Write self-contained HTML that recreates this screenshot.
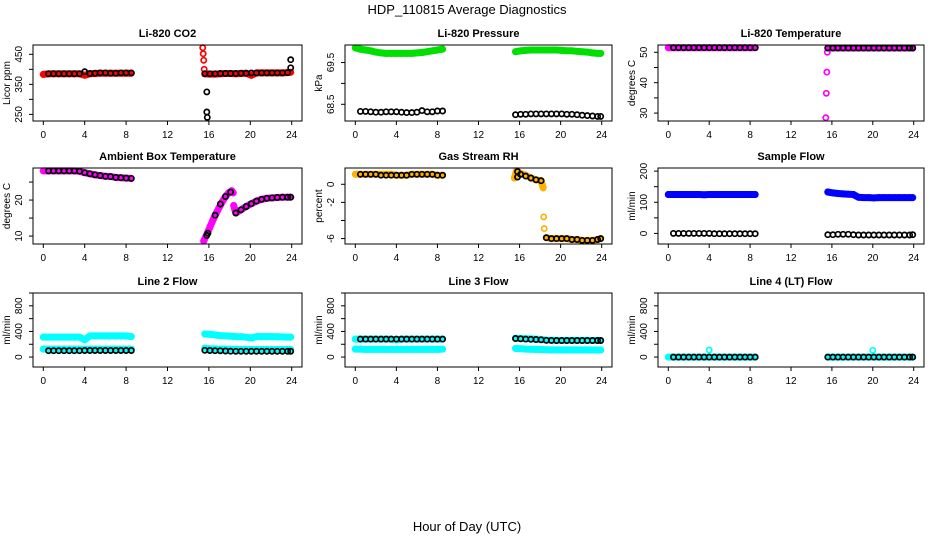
<!DOCTYPE html>
<html><head><meta charset="utf-8"><style>
html,body{margin:0;padding:0;background:#fff;}
svg{display:block;font-family:"Liberation Sans",Arial,sans-serif;}
</style></head><body>
<svg id="chart" width="936" height="540" viewBox="0 0 936 540">
<text x="467" y="14" text-anchor="middle" font-size="13">HDP_110815  Average Diagnostics</text>
<text x="467" y="531" text-anchor="middle" font-size="13">Hour of Day (UTC)</text>
</svg>
<script>
// shared hours
const HA = [0,0.5,1,1.5,2,2.5,3,3.5,4,4.5,5,5.5,6,6.5,7,7.5,8,8.5];
const HAb = [0.5,1,1.5,2,2.5,3,3.5,4,4.5,5,5.5,6,6.5,7,7.5,8,8.5];
const HB = [15.6,16.1,16.6,17.1,17.6,18.1,18.6,19.1,19.6,20.1,20.6,21.1,21.6,22.1,22.6,23.1,23.6,23.9];
const xTicks = [0,4,8,12,16,20,24];

// Li-820 CO2
const co2RedA = [383,385,385,385,385,385,385,385,380,385,386,387,387,387,387,387,387,387];
const co2RedB = [385,384,384,385,386,386,385,386,387,380,388,388,388,388,388,388,389,390];
const co2RedSpikeH = [15.4,15.45,15.5,15.55];
const co2RedSpikeV = [472,452,430,400];
const co2BlkA = [385,385,385,385,385,385,385,392,386,387,388,388,387,387,388,388,388];
const co2BlkB = [385,385,385,386,386,386,386,387,387,388,388,388,388,388,388,388,389,405];
const co2OutH = [15.8,15.8,15.85,23.9];
const co2OutV = [325,258,240,432];
// Pressure
const prGreenA = [69.85,69.82,69.8,69.78,69.75,69.73,69.72,69.72,69.72,69.72,69.72,69.72,69.73,69.74,69.76,69.78,69.8,69.82];
const prGreenB = [69.76,69.78,69.79,69.8,69.8,69.8,69.8,69.8,69.8,69.79,69.78,69.78,69.77,69.76,69.75,69.73,69.72,69.72];
const prBlkA = [68.33,68.33,68.32,68.31,68.31,68.32,68.32,68.32,68.31,68.3,68.3,68.31,68.35,68.32,68.32,68.34,68.34];
const prBlkB = [68.25,68.26,68.26,68.27,68.27,68.27,68.27,68.27,68.27,68.27,68.26,68.26,68.25,68.24,68.23,68.22,68.21,68.21];
// Temperature
const tpMagA = [51.5,51.5,51.5,51.5,51.5,51.5,51.5,51.5,51.5,51.5,51.5,51.5,51.5,51.5,51.5,51.5,51.5,51.5];
const tpMagB = [51.4,51.4,51.4,51.4,51.4,51.4,51.4,51.4,51.4,51.4,51.4,51.4,51.4,51.4,51.4,51.4,51.4,51.4];
const tpSpikeH = [15.4,15.45,15.5,15.55];
const tpSpikeV = [28.5,36.5,43.5,50];
const tpBlkA = [51.5,51.5,51.5,51.5,51.5,51.5,51.5,51.5,51.5,51.5,51.5,51.5,51.5,51.5,51.5,51.5,51.5];
const tpBlkB = [51.4,51.4,51.4,51.4,51.4,51.4,51.4,51.4,51.4,51.4,51.4,51.4,51.4,51.4,51.4,51.4,51.4,51.4];
// Ambient box temperature
const abMagA = [28.1,28.1,28.1,28.1,28.1,28.1,28.1,28.0,27.6,27.3,27.0,26.8,26.6,26.5,26.3,26.2,26.1,26.0];
const abMagBH = [15.5,15.8,16.1,16.4,16.7,17.0,17.3,17.6,17.9,18.2,18.35,null,18.4,18.6,19.1,19.6,20.1,20.6,21.1,21.6,22.1,22.6,23.1,23.6,23.9];
const abMagB = [8.6,10.5,12.5,14.5,16.3,18.0,19.6,21.0,22.0,22.6,22.0,null,18.5,16.4,17.3,18.2,19.0,19.7,20.2,20.5,20.6,20.7,20.8,20.8,20.8];
const abBlkA = [28.1,28.1,28.1,28.1,28.1,28.1,28.0,27.6,27.3,27.0,26.8,26.6,26.5,26.3,26.2,26.1,26.0];
const abBlkBH = [15.8,15.9,16.6,17.1,17.6,18.1,18.6,19.1,19.6,20.1,20.6,21.1,21.6,22.1,22.6,23.1,23.6,23.9];
const abBlkB = [10.2,10.8,15.8,18.9,21.0,22.2,16.4,17.3,18.2,19.0,19.7,20.2,20.5,20.6,20.7,20.8,20.8,20.8];
// Gas stream RH
const rhYelA = [1.1,1.1,1.1,1.1,1.1,1.1,1.1,1.1,1.0,1.0,1.0,1.1,1.1,1.1,1.1,1.1,1.0,1.0];
const rhYelBH = [15.5,15.7,16.1,16.6,17.1,17.6,18.1,18.3,null,18.35,null,18.4,null,18.6,19.1,19.6,20.1,20.6,21.1,21.6,22.1,22.6,23.1,23.6,23.9];
const rhYelB = [0.7,1.5,1.2,1.0,0.7,0.5,0.4,-0.4,null,-3.6,null,-4.9,null,-5.9,-6.0,-6.0,-6.0,-6.0,-6.1,-6.1,-6.2,-6.2,-6.2,-6.1,-6.0];
const rhBlkA = [1.1,1.1,1.1,1.1,1.0,1.0,1.0,1.0,1.0,1.0,1.1,1.1,1.1,1.1,1.1,1.0,1.0];
const rhBlkBH = [15.8,15.8,16.1,16.6,17.1,17.6,18.1,18.6,19.1,19.6,20.1,20.6,21.1,21.6,22.1,22.6,23.1,23.6,23.9];
const rhBlkB = [1.4,0.8,1.1,0.9,0.7,0.5,0.4,-5.9,-6.0,-6.0,-6.0,-6.0,-6.1,-6.1,-6.2,-6.2,-6.2,-6.1,-6.0];
// Sample flow
const sfBluA = [125,125,125,125,125,125,125,124,125,125,125,125,125,125,125,125,125,125];
const sfBluB = [133,130,128,127,126,125,116,115,115,114,115,115,115,115,115,115,115,115];
const sfBlkA = [0,0,0,0,0,0,0,0,-1,-1,-1,-1,-1,-1,-1,-1,-1];
const sfBlkB = [-4,-4,-3,-3,-3,-4,-5,-5,-5,-5,-5,-5,-5,-5,-5,-5,-5,-4];
// Line 2 flow
const l2CyUA = [312,312,312,312,312,312,312,312,270,330,330,330,330,330,330,330,330,320];
const l2CyUB = [360,355,345,335,330,325,320,318,310,298,320,320,320,320,318,315,312,312];
const l2CyLA = [125,125,125,125,125,125,125,125,125,125,125,125,125,125,125,125,125,125];
const l2CyLB = [140,130,128,125,125,122,120,120,120,118,118,118,118,118,118,118,118,118];
const l2BlkA = [100,100,100,100,100,100,100,103,103,103,103,103,103,103,103,103,103];
const l2BlkB = [105,103,100,98,95,92,90,90,90,90,90,90,90,90,90,90,90,90];
// Line 3 flow
const l3CyUA = [281,281,281,281,281,281,281,281,270,281,281,281,281,281,281,281,281,281];
const l3CyUB = [295,290,285,285,280,275,265,262,260,258,260,260,260,260,260,258,258,258];
const l3CyLA = [125,125,120,120,120,120,120,120,120,120,120,120,120,120,120,120,120,125];
const l3CyLB = [135,130,125,122,120,118,115,112,112,112,112,112,112,112,112,110,110,110];
const l3BlkA = [281,281,281,281,281,281,281,281,281,281,281,281,281,281,281,281,281];
const l3BlkB = [290,285,280,278,275,270,262,260,258,258,258,258,258,258,258,258,258,258];
// Line 4 flow
const l4CyA = [0,0,0,0,0,0,0,0,0,0,0,0,0,0,0,0,0,0];
const l4CyB = [0,0,0,0,0,0,0,0,0,0,0,0,0,0,0,0,0,0];
const l4OutH = [4,20];
const l4OutV = [110,105];
const l4BlkA = [0,0,0,0,0,0,0,0,0,0,0,0,0,0,0,0,0];
const l4BlkB = [0,0,0,0,0,0,0,0,0,0,0,0,0,0,0,0,0,0];

const NS = 'http://www.w3.org/2000/svg';
const svg = document.getElementById('chart');
function mk(tag, attrs, parent){
  const e = document.createElementNS(NS, tag);
  for (const k in attrs) e.setAttribute(k, attrs[k]);
  (parent||svg).appendChild(e);
  return e;
}
const colL = [33,345,658], colR = [302,612,924];
const rowT = [45,168,293], rowB = [121,244,367];

function panel(name, title, ylabel, col, row, ymin, ymax, yticks, ylabels, series){
  const L = colL[col], R = colR[col], T = rowT[row], B = rowB[row];
  const g = mk('g', {});
  
  
  const x0 = L + 10.3, kx = (R - L - 20.6) / 24;
  const xs = h => x0 + h * kx;
  const ys = v => B - (v - ymin) / (ymax - ymin) * (B - T);
  const t = mk('text', {x:(L+R)/2, y:T-8, 'text-anchor':'middle', 'font-size':11, 'font-weight':'bold'}, g);
  t.textContent = title;
  
  
  series.forEach(s => {
    const sg = mk('g', {}, g);
    
    
    if (s.band) {
      let d = '', pen = false;
      s.x.forEach((h,i) => {
        const v = s.y[i];
        if (h === null || v === null) { pen = false; return; }
        d += (pen ? 'L' : 'M') + xs(h).toFixed(1) + ' ' + ys(v).toFixed(1) + ' ';
        pen = true;
      });
      mk('path', {d:d, fill:'none', stroke:s.c, 'stroke-width':7, 'stroke-linecap':'round', 'stroke-linejoin':'round'}, sg);
    }
    s.x.forEach((h,i) => {
      const v = s.y[i];
      if (h === null || v === null) return;
      const c = mk('circle', {cx:xs(h).toFixed(1), cy:ys(v).toFixed(1), r:2.6, fill:'none', stroke:s.c, 'stroke-width':1.7}, sg);
      
      
    });
  });
  const box = mk('rect', {x:L, y:T, width:R-L, height:B-T, fill:'none', stroke:'#000', 'stroke-width':1}, g);
  
  
  xTicks.forEach(h => {
    mk('line', {x1:xs(h), x2:xs(h), y1:B, y2:B+4, stroke:'#000'}, g);
    const tl = mk('text', {x:xs(h), y:B+17, 'text-anchor':'middle', 'font-size':10}, g);
    tl.textContent = h;
    
    
  });
  mk('line', {x1:xs(0), x2:xs(24), y1:B, y2:B, stroke:'#000'}, g);
  yticks.forEach(v => {
    mk('line', {x1:L-4, x2:L, y1:ys(v), y2:ys(v), stroke:'#000'}, g);
  });
  ylabels.forEach(v => {
    const y = ys(v);
    const tl = mk('text', {x:L-11, y:y, 'text-anchor':'middle', 'font-size':10, transform:'rotate(-90 '+(L-11)+' '+y+')'}, g);
    tl.textContent = v;
    
    
  });
  const ym = (T+B)/2;
  const yt = mk('text', {x:L-23, y:ym, 'text-anchor':'middle', 'font-size':10, transform:'rotate(-90 '+(L-23)+' '+ym+')'}, g);
  yt.textContent = ylabel;
  
  
}

const RED='#ff0000', GRN='#00e000', MAG='#ff00ff', YEL='#ffb000', BLU='#0000ff', CY='#00ffff', BK='#000000';

panel('co2','Li-820 CO2','Licor ppm',0,0,228,481,[250,300,350,400,450],[250,350,450],[
  {id:'red-a',x:HA,y:co2RedA,c:RED,band:true},{id:'red-b',x:HB,y:co2RedB,c:RED,band:true},
  {id:'red-spike',x:co2RedSpikeH,y:co2RedSpikeV,c:RED},
  {id:'black-a',x:HAb,y:co2BlkA,c:BK},{id:'black-b',x:HB,y:co2BlkB,c:BK},
  {id:'black-outliers',x:co2OutH,y:co2OutV,c:BK}]);
panel('pressure','Li-820 Pressure','kPa',1,0,68.1,69.92,[68.5,69.0,69.5],[68.5,69.5],[
  {id:'green-a',x:HA,y:prGreenA,c:GRN,band:true},{id:'green-b',x:HB,y:prGreenB,c:GRN,band:true},
  {id:'black-a',x:HAb,y:prBlkA,c:BK},{id:'black-b',x:HB,y:prBlkB,c:BK}]);
panel('temperature','Li-820 Temperature','degrees C',2,0,27.4,52.4,[30,35,40,45,50],[30,40,50],[
  {id:'magenta-a',x:HA,y:tpMagA,c:MAG,band:true},{id:'magenta-b',x:HB,y:tpMagB,c:MAG,band:true},
  {id:'magenta-spike',x:tpSpikeH,y:tpSpikeV,c:MAG},
  {id:'black-a',x:HAb,y:tpBlkA,c:BK},{id:'black-b',x:HB,y:tpBlkB,c:BK}]);
panel('ambient','Ambient Box Temperature','degrees C',0,1,7.8,28.9,[10,15,20,25],[10,20],[
  {id:'magenta-a',x:HA,y:abMagA,c:MAG,band:true},{id:'magenta-b',x:abMagBH,y:abMagB,c:MAG,band:true},
  {id:'black-a',x:HAb,y:abBlkA,c:BK},{id:'black-b',x:abBlkBH,y:abBlkB,c:BK}]);
panel('rh','Gas Stream RH','percent',1,1,-6.6,1.8,[-6,-4,-2,0],[-6,-2,0],[
  {id:'yellow-a',x:HA,y:rhYelA,c:YEL,band:true},{id:'yellow-b',x:rhYelBH,y:rhYelB,c:YEL,band:true},
  {id:'black-a',x:HAb,y:rhBlkA,c:BK},{id:'black-b',x:rhBlkBH,y:rhBlkB,c:BK}]);
panel('sample-flow','Sample Flow','ml/min',2,1,-34,210,[0,50,100,150,200],[0,100,200],[
  {id:'blue-a',x:HA,y:sfBluA,c:BLU,band:true},{id:'blue-b',x:HB,y:sfBluB,c:BLU,band:true},
  {id:'black-a',x:HAb,y:sfBlkA,c:BK},{id:'black-b',x:HB,y:sfBlkB,c:BK}]);
panel('line2','Line 2 Flow','ml/min',0,2,-155,1000,[0,200,400,600,800,1000],[0,400,800],[
  {id:'cyan-upper-a',x:HA,y:l2CyUA,c:CY,band:true},{id:'cyan-upper-b',x:HB,y:l2CyUB,c:CY,band:true},
  {id:'cyan-lower-a',x:HA,y:l2CyLA,c:CY,band:true},{id:'cyan-lower-b',x:HB,y:l2CyLB,c:CY,band:true},
  {id:'black-a',x:HAb,y:l2BlkA,c:BK},{id:'black-b',x:HB,y:l2BlkB,c:BK}]);
panel('line3','Line 3 Flow','ml/min',1,2,-155,1000,[0,200,400,600,800,1000],[0,400,800],[
  {id:'cyan-upper-a',x:HA,y:l3CyUA,c:CY,band:true},{id:'cyan-upper-b',x:HB,y:l3CyUB,c:CY,band:true},
  {id:'cyan-lower-a',x:HA,y:l3CyLA,c:CY,band:true},{id:'cyan-lower-b',x:HB,y:l3CyLB,c:CY,band:true},
  {id:'black-a',x:HAb,y:l3BlkA,c:BK},{id:'black-b',x:HB,y:l3BlkB,c:BK}]);
panel('line4','Line 4 (LT) Flow','ml/min',2,2,-155,1000,[0,200,400,600,800,1000],[0,400,800],[
  {id:'cyan-a',x:HA,y:l4CyA,c:CY,band:true},{id:'cyan-b',x:HB,y:l4CyB,c:CY,band:true},
  {id:'cyan-outliers',x:l4OutH,y:l4OutV,c:CY},
  {id:'black-a',x:HAb,y:l4BlkA,c:BK},{id:'black-b',x:HB,y:l4BlkB,c:BK}]);
</script>
</body></html>
